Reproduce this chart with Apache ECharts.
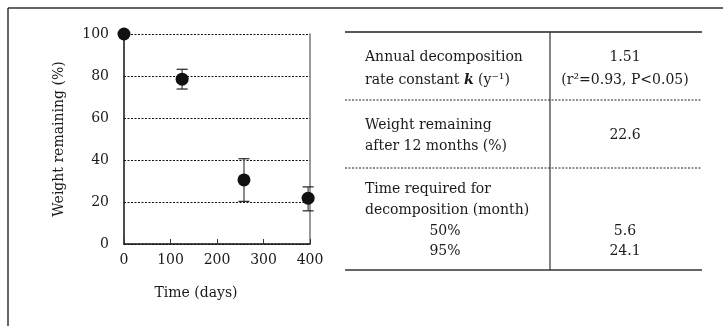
<!DOCTYPE html>
<html>
<head>
<meta charset="utf-8">
<script src="https://cdn.jsdelivr.net/npm/echarts@6/dist/echarts.min.js"></script>
<style>html,body{margin:0;padding:0;background:#fff}#c{width:723px;height:326px}</style>
</head>
<body>
<div id="c"></div>
<script>
// ---- data ----
const days = [0, 125, 258, 396];
const weightRemaining = [100, 78.5, 30.5, 21.8];
const errLow = [null, 73.8, 20.3, 15.8];
const errHigh = [null, 83.2, 40.6, 27.2];
const xTicks = [0, 100, 200, 300, 400];
const yTicks = [0, 20, 40, 60, 80, 100];
const xName = 'Time (days)';
const yName = 'Weight remaining (%)';
// table
const row1Left = ['Annual decomposition', 'rate constant {k|k} (y⁻¹)'];
const row1Right = ['1.51', '(r²=0.93, P<0.05)'];
const row2Left = ['Weight remaining', 'after 12 months (%)'];
const row2Right = ['22.6'];
const row3Left = ['Time required for', 'decomposition (month)'];
const row3Pct = ['50%', '95%'];
const row3Right = ['5.6', '24.1'];

const FONT = '"DejaVu Serif", "Liberation Serif", serif';
const TC = '#1a1a1a';
const chart = echarts.init(document.getElementById('c'));

function txt(x, y, s, align) {
  return {
    type: 'text', x: x, y: y,
    style: {
      text: s, fill: TC, font: '14px ' + FONT, textAlign: align || 'left', textVerticalAlign: 'middle',
      rich: { k: { fontStyle: 'italic', fontWeight: 'bold', fontFamily: FONT, fontSize: 14, fill: TC, color: TC } }
    }
  };
}
function line(x1, y1, x2, y2, w, color, dash) {
  return { type: 'line', shape: { x1: x1, y1: y1, x2: x2, y2: y2 },
    style: { stroke: color, lineWidth: w, lineDash: dash || null } };
}

const tL = 345, tR = 702, tMid = 550, tTop = 32, tBot = 270, sep1 = 100, sep2 = 168;
const lx = 365, rc = 625, pc = 445;
const graphics = [
  line(8, 8, 723, 8, 1.5, '#333'),
  line(8, 8, 8, 326, 1.5, '#333'),
  line(tL, tTop, tR, tTop, 1.5, '#222'),
  line(tL, tBot, tR, tBot, 2, '#666'),
  line(tMid, tTop, tMid, tBot, 1.2, '#333'),
  line(tL, sep1, tR, sep1, 1, '#222', [2, 1.5]),
  line(tL, sep2, tR, sep2, 1, '#222', [2, 1.5]),
  txt(lx, 57, row1Left[0]), txt(lx, 80, row1Left[1]),
  txt(rc, 57, row1Right[0], 'center'), txt(rc, 80, row1Right[1], 'center'),
  txt(lx, 125, row2Left[0]), txt(lx, 146, row2Left[1]),
  txt(rc, 135, row2Right[0], 'center'),
  txt(lx, 189, row3Left[0]), txt(lx, 210, row3Left[1]),
  txt(pc, 231, row3Pct[0], 'center'), txt(pc, 251, row3Pct[1], 'center'),
  txt(rc, 231, row3Right[0], 'center'), txt(rc, 251, row3Right[1], 'center'),
  txt(196, 293, xName, 'center')
];

const errData = days.map((d, i) => [d, errLow[i], errHigh[i]]).filter(r => r[1] != null);

chart.setOption({
  animation: false,
  backgroundColor: '#fff',
  textStyle: { fontFamily: FONT },
  grid: { left: 124, right: 413, top: 34, bottom: 82 },
  xAxis: {
    type: 'value', min: xTicks[0], max: xTicks[xTicks.length - 1], interval: 100,
    axisLine: { lineStyle: { color: '#111', width: 1.5 } },
    axisTick: { inside: true, length: 5, lineStyle: { color: '#333' } },
    axisLabel: { color: TC, fontSize: 14, fontFamily: FONT, margin: 9 },
    splitLine: { show: false }
  },
  yAxis: [{
    type: 'value', min: yTicks[0], max: yTicks[yTicks.length - 1], interval: 20,
    name: yName, nameLocation: 'middle', nameGap: 58,
    nameTextStyle: { color: TC, fontSize: 14, fontFamily: FONT },
    axisLine: { show: true, lineStyle: { color: '#111', width: 1.5 } },
    axisTick: { show: false },
    axisLabel: { color: TC, fontSize: 14, fontFamily: FONT, margin: 15 },
    splitLine: { show: true, lineStyle: { color: '#111', type: [2, 1.5], width: 1 } }
  }, {
    type: 'value', min: 0, max: 100, position: 'right',
    axisLine: { show: true, lineStyle: { color: '#777', width: 1.5 } },
    axisTick: { show: false }, axisLabel: { show: false }, splitLine: { show: false }
  }],
  series: [{
    type: 'custom',
    data: errData,
    z: 2,
    renderItem: function (params, api) {
      const x = api.value(0);
      const lo = api.coord([x, api.value(1)]);
      const hi = api.coord([x, api.value(2)]);
      const cw = 5.5;
      return {
        type: 'group',
        children: [
          { type: 'line', shape: { x1: lo[0], y1: lo[1], x2: hi[0], y2: hi[1] }, style: { stroke: '#666', lineWidth: 1.5 } },
          { type: 'line', shape: { x1: lo[0] - cw, y1: lo[1], x2: lo[0] + cw, y2: lo[1] }, style: { stroke: '#222', lineWidth: 1.2 } },
          { type: 'line', shape: { x1: hi[0] - cw, y1: hi[1], x2: hi[0] + cw, y2: hi[1] }, style: { stroke: '#222', lineWidth: 1.2 } }
        ]
      };
    }
  }, {
    type: 'scatter',
    data: days.map((d, i) => [d, weightRemaining[i]]),
    symbol: 'circle', symbolSize: 13,
    itemStyle: { color: '#111', opacity: 1 },
    z: 3,
    clip: false
  }],
  graphic: graphics
});
</script>
</body>
</html>
